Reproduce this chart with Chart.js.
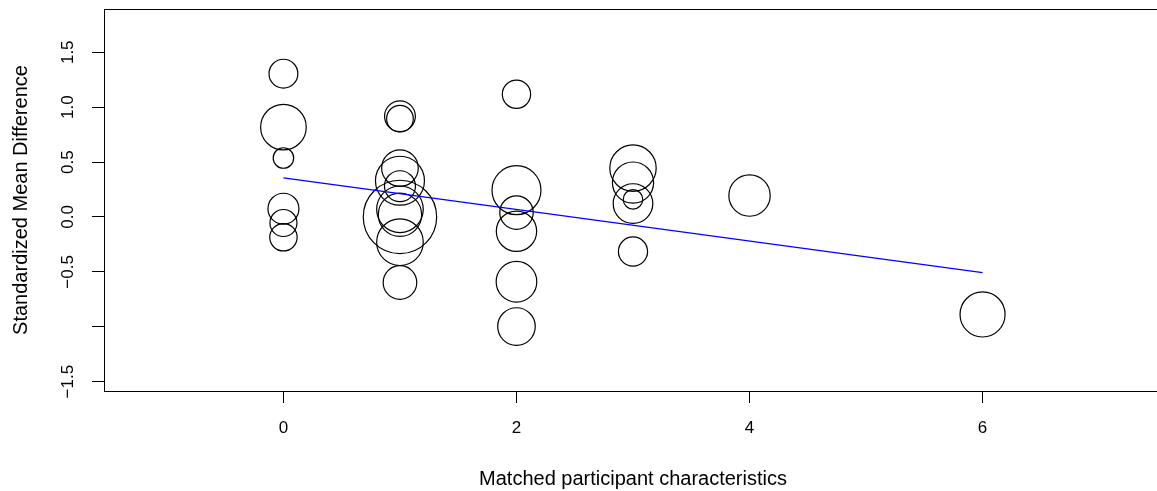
<!DOCTYPE html>
<html>
<head>
<meta charset="utf-8">
<title>Meta-regression: matched participant characteristics</title>
<script src="https://cdn.jsdelivr.net/npm/chart.js@4.4.1/dist/chart.umd.min.js"></script>
<style>
  html, body { margin: 0; padding: 0; background: #fff; overflow: hidden; }
  #wrap { width: 1180px; height: 491px; }
</style>
</head>
<body>
<div id="wrap"><canvas id="smd-chart" width="1180" height="491"></canvas></div>
<script>
// Studies: number of matched characteristics, SMD and study weight
const matched = [0, 0, 0, 0, 0, 0,
                 1, 1, 1, 1, 1, 1, 1, 1, 1, 1,
                 2, 2, 2, 2, 2, 2,
                 3, 3, 3, 3, 3,
                 4, 6];
const smd = [1.305, 0.818, 0.537, 0.075, -0.055, -0.185,
             0.917, 0.895, 0.445, 0.33, 0.28, 0.0, 0.07, 0.02, -0.23, -0.597,
             1.118, 0.244, 0.04, -0.13, -0.59, -0.998,
             0.445, 0.313, 0.16, 0.122, -0.315,
             0.195, -0.888];
const weights = [8.3, 20.8, 4.2, 9.6, 7.3, 7.5,
                 9.5, 7.1, 13.4, 24.0, 9.6, 53.9, 21.7, 18.8, 21.7, 11.3,
                 8.0, 24.0, 11.2, 16.3, 16.5, 14.1,
                 21.5, 17.0, 3.8, 15.7, 8.5,
                 17.1, 20.3];

// Fitted meta-regression line
const fitX = [0, 6];
const fitY = [0.356, -0.507];

const xTicks = [0, 2, 4, 6];
const yTicks = [-1.5, -1.0, -0.5, 0.0, 0.5, 1.0, 1.5];
const yHidden = [-1.0];

const FAMILY = "'Liberation Sans', Arial, Helvetica, sans-serif";
const TICK_FONT = { family: FAMILY, size: 17 };
const TITLE_FONT = { family: FAMILY, size: 20 };

function fmtY(v) {
  if (yHidden.includes(v)) return "";
  return v.toFixed(1).replace("-", "\u2212");
}

// Plot frame around the whole chart area
const boxPlugin = {
  id: "plotBox",
  afterDraw(chart) {
    const { ctx, chartArea: a } = chart;
    ctx.save();
    ctx.strokeStyle = "#000";
    ctx.lineWidth = 1;
    ctx.strokeRect(Math.round(a.left) + 0.5, Math.round(a.top) + 0.5,
                   Math.round(a.right - a.left), Math.round(a.bottom - a.top));
    ctx.restore();
  }
};

const bubbles = matched.map((x, i) => ({ x: x, y: smd[i], r: 5 * Math.sqrt(weights[i]) }));
const fitLine = fitX.map((x, i) => ({ x: x, y: fitY[i] }));

new Chart(document.getElementById("smd-chart"), {
  type: "bubble",
  data: {
    datasets: [
      {
        type: "line",
        data: fitLine,
        borderColor: "#0000ff",
        borderWidth: 1.2,
        pointRadius: 0,
        fill: false
      },
      {
        data: bubbles,
        backgroundColor: "rgba(0,0,0,0)",
        borderColor: "#000",
        borderWidth: 1.2,
        hoverRadius: 0
      }
    ]
  },
  options: {
    responsive: false,
    animation: false,
    devicePixelRatio: 1,
    layout: { autoPadding: false, padding: { top: 9, right: 18, bottom: 0, left: 0 } },
    plugins: { legend: { display: false }, tooltip: { enabled: false } },
    scales: {
      x: {
        type: "linear",
        min: -1.54,
        max: 7.54,
        afterBuildTicks: s => { s.ticks = xTicks.map(v => ({ value: v })); },
        afterFit: s => { s.height = 100; s.paddingLeft = 0; s.paddingRight = 0; },
        border: { display: false },
        grid: { drawOnChartArea: false, drawTicks: true, tickLength: 12, color: "#000", lineWidth: 1 },
        ticks: { color: "#000", font: TICK_FONT, padding: 15, maxRotation: 0, callback: v => String(v) },
        title: {
          display: true,
          text: "Matched participant characteristics",
          color: "#000",
          font: TITLE_FONT,
          padding: { top: 0, bottom: 0 }
        }
      },
      y: {
        type: "linear",
        min: -1.585,
        max: 1.894,
        afterBuildTicks: s => { s.ticks = yTicks.map(v => ({ value: v })); },
        afterFit: s => { s.width = 104; s.paddingTop = 0; s.paddingBottom = 0; },
        border: { display: false },
        grid: { drawOnChartArea: false, drawTicks: true, tickLength: 12, color: "#000", lineWidth: 1 },
        ticks: { color: "#000", font: TICK_FONT, padding: 7, minRotation: 90, maxRotation: 90, crossAlign: "center", callback: fmtY },
        title: {
          display: true,
          text: "Standardized Mean Difference",
          color: "#000",
          font: TITLE_FONT,
          padding: { top: 9, bottom: 0 }
        }
      }
    }
  },
  plugins: [boxPlugin]
});
</script>
</body>
</html>
